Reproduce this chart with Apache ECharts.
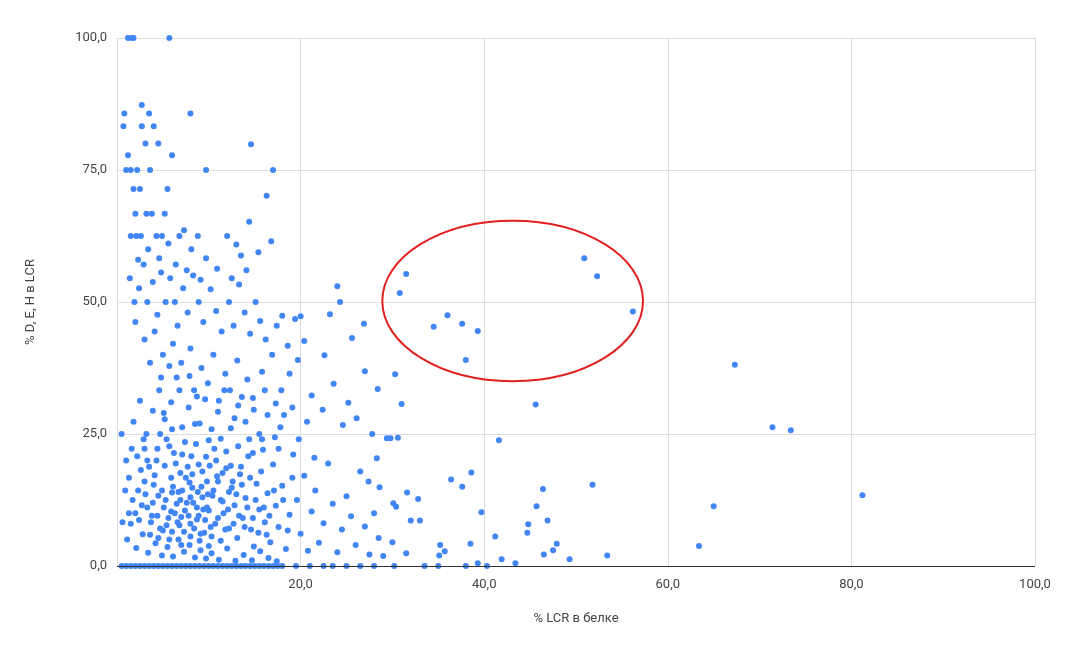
<!DOCTYPE html>
<html><head><meta charset="utf-8">
<script src="https://cdn.jsdelivr.net/npm/echarts@6/dist/echarts.min.js"></script>
<style>html,body{margin:0;background:#fff}#c{width:1068px;height:659px}</style>
</head><body><div id="c"></div>
<script>
// points: [x, y]
var outliers = [[31.5,55.3],[30.8,51.7],[34.5,45.3],[36.0,47.5],[37.6,45.9],[38.0,39.0],[39.3,44.5],[50.9,58.3],[52.3,54.9],[56.2,48.2],
 [67.3,38.1],[71.4,26.3],[73.4,25.7],[81.2,13.4],[45.6,30.6],[41.6,23.8],[30.3,36.3],[31.0,30.7],[30.6,24.3],[29.8,24.2],[29.4,24.2],
 [51.8,15.4],[65.0,11.3],[63.4,3.8],[53.4,2.0],[49.3,1.3],[46.4,14.6],[45.7,11.3],[44.8,7.9],[46.9,8.6],[47.9,4.2],[47.5,3.0],[46.5,2.2],
 [44.7,6.3],[43.4,0.5],[41.2,5.6],[39.7,10.2],[38.6,17.7],[37.6,15.0],[36.4,16.4],[35.7,2.8],[38.5,4.2],[35.2,4.0],[35.1,2.0],[41.9,1.3],
 [39.3,0.5],[32.8,12.7],[31.6,13.9],[32.0,8.6],[30.1,11.9],[30.4,11.2],[28.6,14.9],[27.4,16.0],[28.3,20.4],[28.4,33.5],[27.0,36.9],
 [25.6,43.2],[26.9,45.9],[25.2,30.9],[24.0,53.0],[24.3,50.0],[23.2,47.7],[22.6,39.9],[20.4,42.6],[20.0,47.3],[19.4,46.8],[19.7,39.0],
 [18.0,47.4],[17.0,75.0],[16.3,70.1],[14.6,79.9],[14.4,65.2],[9.7,75.0],[8.0,85.7],[5.7,100],[1.2,100],[1.6,100],[1.8,100],[2.7,87.3]];
var upperLeft = [[0.8,85.7],[0.7,83.3],[1.2,77.8],[1.0,75.0],[1.5,75.0],[1.8,71.4],[2.2,75.0],[2.5,71.4],[2.0,66.7],[1.5,62.5],[2.1,62.5],
 [2.6,62.5],[3.2,66.7],[3.6,75.0],[3.1,80.0],[2.7,83.3],[3.5,85.7],[4.0,83.3],[4.5,80.0],[3.8,66.7],[4.3,62.5],[4.9,62.5],[5.2,66.7],
 [5.5,71.4],[6.0,77.8],[6.8,62.5],[7.3,63.6],[8.1,60.0],[8.8,62.5],[9.7,58.3],[12.0,62.5],[13.0,60.9],[13.5,58.8],[15.4,59.4],[16.8,61.5],
 [1.4,54.5],[1.9,50.0],[2.4,52.6],[2.9,57.1],[3.3,50.0],[3.9,53.8],[4.4,47.6],[4.8,55.6],[5.3,50.0],[5.8,54.5],[6.3,50.0],[6.6,45.5],
 [7.2,52.6],[7.7,48.0],[8.3,55.0],[8.9,50.0],[9.4,46.2],[10.2,52.4],[10.8,48.3],[11.4,44.4],[12.2,50.0],[12.7,45.5],[13.3,53.3],[13.9,48.0],
 [14.5,44.0],[15.1,50.0],[15.6,46.4],[16.2,42.9],[16.9,40.0],[17.4,45.5],[18.6,41.7],[2.0,46.2],[3.0,42.9],[4.1,44.4],[5.0,40.0],[6.1,42.1],
 [7.0,38.5],[8.0,41.2],[9.2,37.5],[10.5,40.0],[11.8,36.4],[13.1,38.9],[14.2,35.3],[15.8,36.8],[17.9,33.3],[19.1,30.0],[21.2,32.3],[22.4,29.6],
 [23.6,34.5],[24.6,26.7],[26.1,28.0],[27.8,25.0],[20.7,27.3],[18.2,28.6],
 [2.3,58.0],[3.4,60.0],[4.6,58.3],[5.6,61.1],[6.4,57.1],[7.6,56.0],[9.1,54.2],[10.9,56.3],[12.5,54.5],[14.1,56.0],[3.6,38.5],[4.8,35.7],
 [5.7,37.9],[6.8,33.3],[7.9,36.0],[8.7,32.1],[9.9,34.6],[11.1,31.3],[12.3,33.3],[13.6,32.0],[14.9,29.6],[16.1,33.3],[17.3,30.8],[18.8,36.4]];
var lowerLeft = [[0.5,25.0],[1.0,20.0],[1.3,16.7],[1.7,12.5],[2.0,10.0],[2.3,14.3],[2.6,18.2],[3.0,22.2],[3.3,11.1],[3.7,8.3],[4.0,15.4],
 [4.3,20.0],[4.7,25.0],[5.0,6.7],[5.3,12.5],[5.6,9.1],[5.9,16.7],[6.2,21.4],[6.5,11.8],[6.8,7.7],[7.1,14.3],[7.4,10.5],[7.7,18.8],[8.0,5.6],
 [8.3,12.0],[8.6,23.1],[8.9,9.5],[9.2,15.0],[9.5,6.3],[9.8,11.1],[10.1,19.0],[10.4,13.3],[10.7,8.0],[11.0,16.0],[11.3,4.8],[11.6,10.0],
 [11.9,21.7],[12.2,7.1],[12.5,14.8],[12.8,11.5],[13.1,5.3],[13.4,17.4],[13.7,9.1],[14.0,12.9],[14.3,20.8],[14.6,6.9],[14.9,3.7],[15.2,15.6],
 [15.5,10.7],[15.8,24.0],[16.1,8.3],[16.4,13.8],[16.7,4.5],[17.0,19.2],[17.3,11.4],[17.6,7.4],[18.0,15.2],[18.4,3.2],[18.8,9.7],[19.2,21.1],
 [19.6,12.5],[20.0,6.1],[20.4,17.1],[20.8,2.9],[21.2,10.3],[21.6,14.3],[22.0,4.4],[22.5,8.1],[23.0,19.4],[23.5,11.8],[24.0,2.6],[24.5,6.9],
 [25.0,13.2],[25.5,9.4],[26.0,4.0],[26.5,17.9],[27.0,7.5],[27.5,2.2],[28.0,10.0],[28.5,5.3],[29.0,1.9],[30.0,4.5],[31.5,2.4],[33.0,8.6],
 [1.1,5.0],[1.5,8.0],[2.1,3.4],[2.8,6.0],[3.4,2.5],[4.2,4.3],[4.9,2.0],[5.5,3.6],[6.1,1.8],[6.7,5.0],[7.3,2.7],[7.9,4.0],[8.5,1.6],[9.1,3.0],
 [9.7,1.4],[10.3,2.4],[11.1,1.2],[12.0,3.3],[12.9,1.0],[13.8,2.1],[14.7,1.1],[15.6,2.8],[16.5,1.5],[17.4,0.9],
 [1.8,27.3],[2.5,31.3],[3.2,25.0],[3.9,29.4],[4.6,33.3],[5.2,27.8],[5.9,31.0],[6.5,35.7],[7.1,26.3],[7.8,30.0],[8.4,33.3],[9.0,27.0],
 [9.6,31.6],[10.3,25.9],[11.0,29.2],[11.7,33.3],[12.4,26.1],[13.2,30.4],[14.0,27.3],[14.8,31.8],[15.5,25.0],[16.4,28.6],[17.2,24.4],
 [3.5,18.8],[4.5,13.3],[5.7,22.7],[6.9,17.6],[8.1,20.8],[9.3,17.9],[10.6,22.2],[11.9,18.5],[13.2,22.7],[6.3,10.0],[7.6,12.0],[8.7,8.8],
 [9.9,13.6],[5.1,11.1],[4.4,9.5],[3.1,13.6],[6.0,13.9],[7.0,9.3],[8.2,14.8],[9.4,10.7],[10.2,7.4],[11.5,12.2],[12.6,16.0]];
var denseCore = [[2.4,8.7],[2.7,11.5],[3.0,16.0],[3.3,20.0],[3.6,5.9],[3.9,12.0],[4.1,17.2],[4.4,22.2],[4.7,7.1],[4.9,14.3],[5.2,19.0],
 [5.4,24.0],[5.7,5.0],[5.9,10.3],[6.1,15.0],[6.4,19.4],[6.6,8.3],[6.9,12.5],[7.1,21.1],[7.3,6.5],[7.5,16.7],[7.8,9.5],[8.0,13.0],[8.2,17.4],
 [8.4,7.1],[8.7,11.1],[8.9,19.2],[9.1,6.1],[9.3,13.0],[9.6,8.7],[9.8,16.0],[10.0,10.5],[10.3,5.6],[10.5,14.3],[10.8,20.0],[11.0,9.1],
 [11.3,12.5],[11.5,17.6],[11.8,6.9],[12.1,10.7],[12.4,19.0],[12.7,8.0],[13.0,13.6],[13.3,9.5],[13.6,15.4],[13.9,7.4],[14.2,11.1],
 [14.5,16.7],[14.8,9.1],[15.1,12.5],[15.4,6.3],[15.7,17.9],[16.0,11.1],[16.3,5.9],[16.6,9.5],[17.1,14.3],[17.6,22.2],[18.1,12.5],
 [18.6,6.7],[19.1,16.7],[6.0,6.5],[7.0,4.0],[8.0,8.0],[9.0,4.8],[10.0,3.8],[5.4,7.7],[4.5,5.3],[3.8,9.5],[6.7,14.0],[7.9,15.8],[8.8,14.0],
 [9.7,20.7],[10.9,17.0],[12.2,14.0],[13.5,18.8],[14.8,21.4],[2.2,20.8],[2.9,24.0],[1.3,10.0],[1.6,22.2],[0.9,14.3],[0.6,8.3],
 [5.1,29.0],[6.0,25.9],[7.4,23.5],[8.5,26.9],[10.0,23.8],[11.3,24.1],[12.8,28.0],[14.4,24.0],[15.9,22.0],[17.8,26.3],[19.8,24.0],[21.5,20.5]];
var zeroRow = [0.5,1.0,1.5,2.0,2.5,3.0,3.5,4.0,4.5,5.0,5.5,6.0,6.5,7.0,7.5,8.0,8.5,9.0,9.5,10.0,10.5,11.0,11.5,12.0,12.5,13.0,13.5,
 14.0,14.5,15.0,15.5,16.0,16.5,17.0,17.5,18.0,19.5,21.0,22.5,23.5,25.0,26.5,28.0,30.2,33.5,35.0,38.0,40.3];
var xTicks = [0, 20, 40, 60, 80, 100];
var yTicks = [0, 25, 50, 75, 100];

var pts = outliers.concat(upperLeft, lowerLeft, denseCore, zeroRow.map(function (x) { return [x, 0]; }));
var fmt = function (v) { return v.toFixed(1).replace('.', ','); };
var txt = {color: '#444', fontFamily: 'Roboto, Arial', fontSize: 13};

var chart = echarts.init(document.getElementById('c'));
chart.setOption({
  animation: false,
  grid: {left: 117, right: 33, top: 38, bottom: 93},
  xAxis: {type: 'value', min: xTicks[0], max: xTicks[xTicks.length - 1], interval: 20,
    name: '% LCR в белке', nameLocation: 'middle', nameGap: 46, nameTextStyle: txt,
    axisLine: {show: false}, axisTick: {show: false},
    axisLabel: Object.assign({formatter: function (v) { return v === 0 ? '' : fmt(v); }, margin: 12}, txt),
    splitLine: {lineStyle: {color: '#ddd'}}},
  yAxis: {type: 'value', min: yTicks[0], max: yTicks[yTicks.length - 1], interval: 25,
    name: '% D, E, H в LCR', nameLocation: 'middle', nameGap: 80, nameTextStyle: txt,
    axisLine: {show: false}, axisTick: {show: false},
    axisLabel: Object.assign({formatter: fmt, margin: 10}, txt),
    splitLine: {lineStyle: {color: '#ddd'}}},
  series: [{type: 'scatter', data: pts, symbolSize: 6, itemStyle: {color: '#4285f4', opacity: 1},
    markLine: {silent: true, symbol: 'none', label: {show: false}, lineStyle: {color: '#333', type: 'solid', width: 1},
      data: [{yAxis: 0}]}}]
});
// red ellipse annotation, placed in data coordinates
var c = chart.convertToPixel({gridIndex: 0}, [43.1, 50.2]);
var e = chart.convertToPixel({gridIndex: 0}, [57.3, 65.4]);
chart.setOption({graphic: [{type: 'ellipse', shape: {cx: c[0], cy: c[1], rx: e[0] - c[0], ry: c[1] - e[1]},
  style: {fill: 'none', stroke: '#e02020', lineWidth: 2}, z: 100}]});
</script></body></html>
